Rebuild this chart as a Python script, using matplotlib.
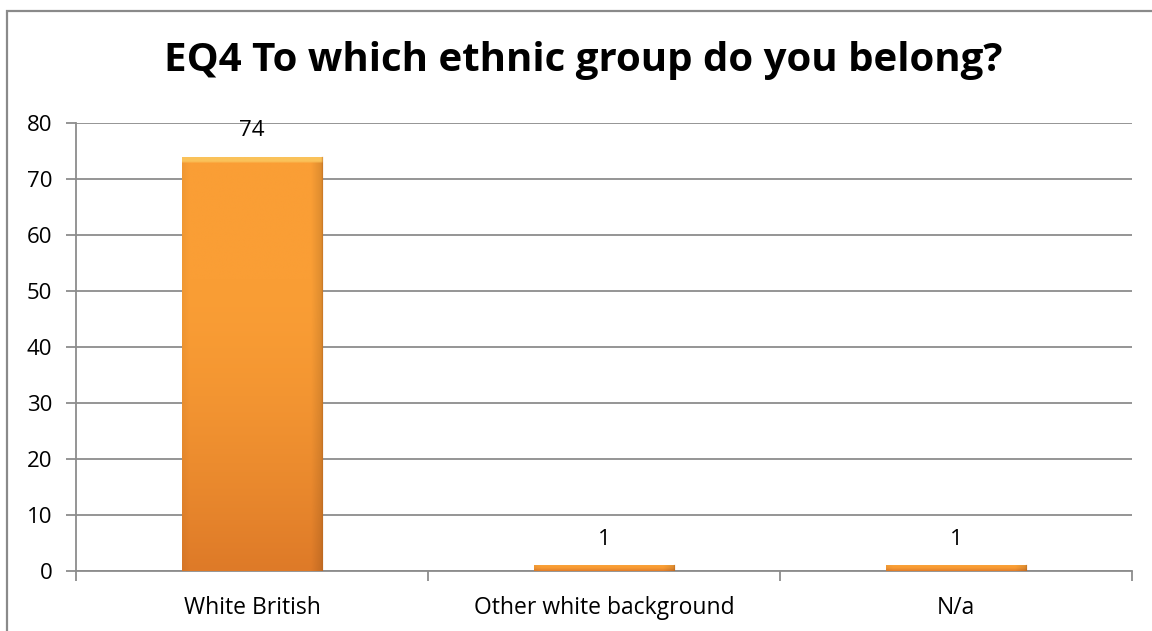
import numpy as np
import matplotlib.pyplot as plt
from matplotlib.patches import Rectangle
from matplotlib.colors import to_rgb

# 数据
categories = ["White British", "Other white background", "N/a"]
counts = [74, 1, 1]
y_ticks = [0, 10, 20, 30, 40, 50, 60, 70, 80]
title = "EQ4 To which ethnic group do you belong?"

plt.rcParams["font.family"] = ["Open Sans", "DejaVu Sans"]

fig = plt.figure(figsize=(11.52, 6.31), dpi=100)
ax = fig.add_axes([76 / 1152, 1 - 571 / 631, (1132 - 76) / 1152, (571 - 123) / 631])

grid_col = "#8c8c8c"

# 外框
fig.patches.append(Rectangle((7 / 1152, -0.2), 1.2, 1.2 - 11 / 631,
                             transform=fig.transFigure, fill=False,
                             edgecolor="#8a8a8a", lw=1.6, zorder=0))

x = np.arange(len(categories))
bars = ax.bar(x, counts, width=0.40, color="#F7962F", edgecolor="none", zorder=2)

# 渐变填充
top_c = np.array(to_rgb("#FA9E35"))
bot_c = np.array(to_rgb("#DE7A28"))
for b in bars:
    x0, y0 = b.get_x(), b.get_y()
    w, h = b.get_width(), b.get_height()
    t = np.linspace(0, 1, 200)[:, None]
    t = np.clip((t - 0.3) / 0.7, 0, 1) ** 1.5
    vert = top_c * (1 - t[..., None]) + bot_c * t[..., None]
    s = np.linspace(0, 1, 100)[None, :]
    shade = 1 - 0.12 * np.clip((s - 0.92) / 0.08, 0, 1) - 0.04 * np.clip((0.05 - s) / 0.05, 0, 1)
    img = vert * shade[..., None]
    img = np.broadcast_to(img, (200, 100, 3)).copy()
    # 顶部亮边
    img[:3, :, :] = np.array(to_rgb("#FAC25A"))
    im = ax.imshow(img, extent=[x0, x0 + w, y0, y0 + h], aspect="auto",
                   origin="upper", zorder=3, interpolation="bilinear")
    im.set_clip_path(b)
    ax.plot([x0 + w, x0 + w], [y0, y0 + h], color="#b5651d", lw=1, alpha=0.4, zorder=4)

for xi, v in zip(x, counts):
    ax.annotate(str(v), (xi, v), xytext=(0, 19), textcoords="offset points",
                ha="center", va="center", fontsize=16, color="black")

ax.set_xlim(-0.5, len(categories) - 0.5)
ax.set_ylim(0, 80)
ax.set_yticks(y_ticks)
ax.yaxis.grid(True, color=grid_col, lw=1.3, zorder=0)
ax.set_axisbelow(True)

ax.set_xticks(x)
ax.set_xticklabels(categories, fontsize=16.5)
ax.set_xticks(np.arange(-0.5, len(categories)), minor=True)
ax.tick_params(axis="x", which="major", length=0, pad=18)
ax.tick_params(axis="x", which="minor", length=7, width=1.3, color=grid_col)
ax.tick_params(axis="y", length=7, width=1.3, color=grid_col, labelsize=16, pad=10)

for side in ["top", "right"]:
    ax.spines[side].set_visible(False)
for side in ["left", "bottom"]:
    ax.spines[side].set_color(grid_col)
    ax.spines[side].set_linewidth(1.3)

fig.text(583 / 1152, 1 - 61 / 631, title, ha="center", va="center",
         fontsize=29, fontweight="bold")

fig.savefig("out.png", dpi=100)
